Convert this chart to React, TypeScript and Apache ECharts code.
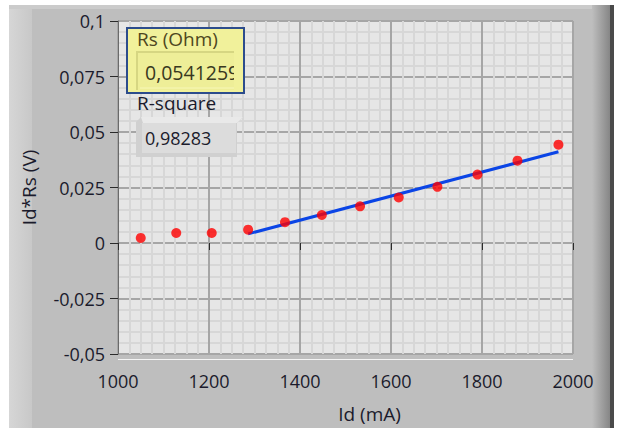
import React, { useEffect, useRef } from 'react';
import * as echarts from 'echarts';

// Measured points (Id in mA, Id*Rs in V)
const idValues = [1050, 1128, 1206, 1286, 1367, 1448, 1532, 1617, 1702, 1790, 1878, 1968];
const vValues = [0.0023, 0.0045, 0.0045, 0.006, 0.0094, 0.0126, 0.0165, 0.0205, 0.0253, 0.0308, 0.0371, 0.0443];
// Linear fit line endpoints
const fitX = [1286, 1968];
const fitY = [0.0041, 0.0411];
// Tick labels
const xTickLabels = ['1000', '1200', '1400', '1600', '1800', '2000'];
const yTickLabels = ['-0,05', '-0,025', '0', '0,025', '0,05', '0,075', '0,1'];
// Indicator texts
const rsLabel = 'Rs (Ohm)';
const rsValue = '0,0541259';
const r2Label = 'R-square';
const r2Value = '0,98283';
const xName = 'Id (mA)';
const yName = 'Id*Rs (V)';

const FONT = "'Open Sans', 'Noto Sans', sans-serif";
const TXT = '#1b1b2c';

export default function App() {
  const ref = useRef<HTMLDivElement>(null);
  useEffect(() => {
    if (!ref.current) return;
    const chart = echarts.init(ref.current, undefined, { renderer: 'svg' });
    const scatterData = idValues.map((x, i) => [x, vValues[i]]);
    const fitData = fitX.map((x, i) => [x, fitY[i]]);
    chart.setOption({
      animation: false,
      grid: {
        left: 118,
        top: 21,
        width: 455,
        height: 338,
        show: true,
        backgroundColor: '#e6e6e6',
        borderWidth: 0,
      },
      xAxis: {
        type: 'value',
        min: 1000,
        max: 2000,
        interval: 200,
        offset: 2,
        z: 2,
        name: xName,
        nameLocation: 'middle',
        nameGap: 48,
        nameTextStyle: { fontSize: 19, fontFamily: FONT, color: TXT, padding: [0, 0, 0, 48] },
        axisLine: { show: false },
        axisTick: { show: true, length: 7, lineStyle: { color: '#2a2a2a', width: 1 } },
        axisLabel: {
          margin: 16,
          fontSize: 18,
          fontFamily: FONT,
          color: TXT,
          formatter: (_v: number, i: number) => xTickLabels[i] ?? '',
        },
        splitLine: { show: true, lineStyle: { color: '#a6a6a6', width: 2 } },
        minorTick: { show: false, splitNumber: 8 },
        minorSplitLine: { show: true, lineStyle: { color: '#d7d7d7', width: 2 } },
      },
      yAxis: {
        type: 'value',
        min: -0.05,
        max: 0.1,
        interval: 0.025,
        z: 2,
        name: yName,
        nameLocation: 'middle',
        nameGap: 80,
        nameTextStyle: { fontSize: 19, fontFamily: FONT, color: TXT },
        axisLine: { show: true, onZero: false, lineStyle: { color: '#6a6a6a', width: 1 } },
        axisTick: { show: true, length: 8, lineStyle: { color: '#2a2a2a', width: 1 } },
        axisLabel: {
          margin: 13,
          fontSize: 18,
          fontFamily: FONT,
          color: TXT,
          formatter: (_v: number, i: number) => yTickLabels[i] ?? '',
        },
        splitLine: { show: true, lineStyle: { color: '#a6a6a6', width: 2 } },
        minorTick: { show: false, splitNumber: 5 },
        minorSplitLine: { show: true, lineStyle: { color: '#d7d7d7', width: 2 } },
      },
      series: [
        {
          type: 'line',
          data: fitData,
          showSymbol: false,
          symbol: 'none',
          lineStyle: { color: '#0b45e6', width: 3 },
          z: 3,
        },
        {
          type: 'scatter',
          data: scatterData,
          symbol: 'circle',
          symbolSize: 10,
          itemStyle: { color: '#ff0000' },
          z: 4,
        },
      ],
      graphic: [
        // panel frame
        { type: 'rect', z: -10, shape: { x: 9, y: 5, width: 605, height: 423 }, style: { fill: '#bebebe' } },
        {
          type: 'rect', z: -9, shape: { x: 9, y: 5, width: 23, height: 423 },
          style: { fill: new echarts.graphic.LinearGradient(0, 0, 1, 0, [{ offset: 0, color: '#d6d6d6' }, { offset: 1, color: '#c8c8c8' }]) },
        },
        { type: 'rect', z: -9, shape: { x: 9, y: 5, width: 605, height: 4 }, style: { fill: '#cbcbcb' } },
        {
          type: 'rect', z: -9, shape: { x: 592, y: 5, width: 18, height: 423 },
          style: { fill: new echarts.graphic.LinearGradient(0, 0, 1, 0, [{ offset: 0, color: '#bebebe' }, { offset: 1, color: '#868686' }]) },
        },
        { type: 'rect', z: -9, shape: { x: 610, y: 5, width: 4, height: 423 }, style: { fill: '#4a4a4a' } },
        // bottom highlight of plot area
        { type: 'line', z: 5, shape: { x1: 118, y1: 359.5, x2: 573, y2: 359.5 }, style: { stroke: '#f4f4f4', lineWidth: 1 } },

        // Rs indicator
        { type: 'rect', z: 50, shape: { x: 127, y: 28, width: 117, height: 65 }, style: { fill: '#f1f19b' } },
        { type: 'rect', z: 51, shape: { x: 137, y: 52, width: 103, height: 38 }, style: { fill: '#eeee98' } },
        { type: 'polyline', z: 52, shape: { points: [[137, 90], [137, 52], [240, 52]] }, style: { stroke: '#d6d682', lineWidth: 2, fill: null } },
        { type: 'polyline', z: 52, shape: { points: [[140, 88], [238, 88], [238, 55]] }, style: { stroke: '#f7f7b8', lineWidth: 1, fill: null } },
        {
          type: 'text', z: 53, x: 137, y: 39,
          style: { text: rsLabel, fontSize: 19, fontFamily: FONT, fill: '#4e4620', verticalAlign: 'middle', align: 'left' },
        },
        {
          type: 'text', z: 53, x: 145, y: 72,
          style: { text: rsValue, fontSize: 19.5, fontFamily: FONT, fill: '#38381e', verticalAlign: 'middle', align: 'left' },
        },
        { type: 'rect', z: 54, shape: { x: 234, y: 50, width: 9, height: 42 }, style: { fill: '#f1f19b' } },
        { type: 'rect', z: 55, shape: { x: 127, y: 28, width: 117, height: 65 }, style: { fill: null, stroke: '#2c4c8c', lineWidth: 2 } },

        // R-square indicator
        {
          type: 'text', z: 53, x: 137, y: 103,
          style: { text: r2Label, fontSize: 19, fontFamily: FONT, fill: TXT, verticalAlign: 'middle', align: 'left' },
        },
        { type: 'polygon', z: 50, shape: { points: [[136, 122], [141, 117], [243, 117], [237, 123], [237, 157], [136, 157]] }, style: { fill: '#d0d0d0' } },
        { type: 'polygon', z: 50, shape: { points: [[141, 117], [243, 117], [237, 123], [143, 123]] }, style: { fill: '#e9e9e9' } },
        { type: 'rect', z: 51, shape: { x: 142, y: 123, width: 94, height: 30 }, style: { fill: '#dcdcdc' } },
        {
          type: 'text', z: 53, x: 145, y: 138,
          style: { text: r2Value, fontSize: 18, fontFamily: FONT, fill: TXT, verticalAlign: 'middle', align: 'left' },
        },
      ],
    });
    return () => chart.dispose();
  }, []);
  return <div ref={ref} style={{ position: 'absolute', left: 0, top: 0, width: 620, height: 428 }} />;
}
